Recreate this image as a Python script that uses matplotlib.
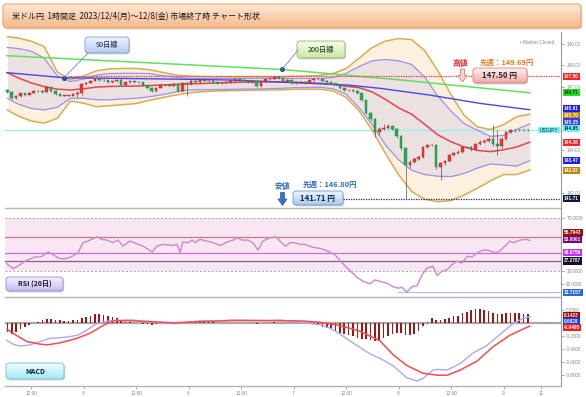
import numpy as np
import matplotlib
matplotlib.use("Agg")
import matplotlib.pyplot as plt
import matplotlib.transforms as mtransforms
from matplotlib.patches import FancyBboxPatch, Polygon, Rectangle, ConnectionPatch
from matplotlib.colors import LinearSegmentedColormap

plt.rcParams['font.family'] = ['Noto Sans CJK JP', 'DejaVu Sans']

# ---------------- data ----------------
title = "米ドル円  1時間足  2023/12/4(月)～12/8(金) 市場終了時 チャート形状"

candle_start = 6.6  # hour (from Dec 4 00:00) of first candle
opens = [146.85, 146.75, 146.45, 146.55, 146.68, 146.62, 146.72, 146.78, 146.80, 146.75,
         147.00, 146.80, 146.65, 146.57, 146.58, 146.58, 146.65, 146.70, 147.12, 147.18,
         147.28, 147.35, 147.30, 147.30, 147.22, 147.25, 147.32, 147.10, 147.22, 147.25,
         147.20, 147.22, 147.08, 146.95, 146.80, 146.95, 147.08, 147.10, 147.05, 147.12,
         146.80, 147.18, 147.12, 147.27, 147.20, 147.32, 147.28, 147.27, 147.20, 147.15,
         147.18, 147.22, 147.25, 147.35, 147.32, 147.28, 147.22, 147.25, 147.02, 147.25,
         147.37, 147.38, 147.45, 147.40, 147.25, 147.33, 147.17, 147.22, 147.22, 147.17,
         147.30, 147.38, 147.35, 147.28, 147.22, 147.15, 147.10, 146.92, 146.83, 146.85,
         146.80, 146.68, 146.35, 145.75, 145.45, 144.88, 145.00, 145.05, 145.12, 145.00,
         144.65, 144.10, 143.30, 143.45, 143.60, 143.67, 144.15, 144.25, 144.25, 143.22,
         143.38, 143.48, 143.78, 143.85, 143.92, 144.15, 144.15, 144.05, 144.30, 144.40,
         144.45, 144.55, 144.28, 144.20, 144.55, 144.87, 144.95, 144.93, 144.97, 144.95]
closes = [146.75, 146.45, 146.55, 146.68, 146.62, 146.72, 146.78, 146.80, 146.75, 147.00,
          146.80, 146.65, 146.57, 146.58, 146.58, 146.65, 146.70, 147.12, 147.18, 147.28,
          147.35, 147.30, 147.30, 147.22, 147.25, 147.32, 147.10, 147.22, 147.25, 147.20,
          147.22, 147.08, 146.95, 146.80, 146.95, 147.08, 147.10, 147.05, 147.12, 146.80,
          147.18, 147.12, 147.27, 147.20, 147.32, 147.28, 147.27, 147.20, 147.15, 147.18,
          147.22, 147.25, 147.35, 147.32, 147.28, 147.22, 147.25, 147.02, 147.25, 147.37,
          147.38, 147.45, 147.40, 147.25, 147.33, 147.17, 147.22, 147.22, 147.17, 147.30,
          147.38, 147.35, 147.28, 147.22, 147.15, 147.10, 146.92, 146.83, 146.85, 146.80,
          146.68, 146.35, 145.75, 145.45, 144.88, 145.00, 145.05, 145.12, 145.00, 144.65,
          144.10, 143.30, 143.45, 143.60, 143.67, 144.15, 144.25, 144.25, 143.22, 143.38,
          143.48, 143.78, 143.85, 143.92, 144.15, 144.15, 144.05, 144.30, 144.40, 144.45,
          144.55, 144.28, 144.20, 144.55, 144.87, 144.95, 144.93, 144.97, 144.95, 144.95]
highs = [146.88, 146.78, 146.60, 146.72, 146.72, 146.76, 146.82, 146.84, 146.83, 147.05,
         147.03, 146.83, 146.68, 146.62, 146.62, 146.68, 146.80, 147.15, 147.22, 147.32,
         147.40, 147.38, 147.34, 147.32, 147.28, 147.36, 147.35, 147.26, 147.29, 147.28,
         147.26, 147.24, 147.10, 146.98, 146.98, 147.12, 147.14, 147.14, 147.16, 147.15,
         147.22, 147.24, 147.31, 147.30, 147.36, 147.35, 147.31, 147.30, 147.23, 147.22,
         147.26, 147.29, 147.39, 147.38, 147.35, 147.31, 147.28, 147.28, 147.28, 147.41,
         147.42, 147.50, 147.48, 147.43, 147.37, 147.36, 147.26, 147.26, 147.25, 147.34,
         147.42, 147.41, 147.38, 147.31, 147.25, 147.18, 147.13, 146.95, 146.89, 146.88,
         146.83, 146.71, 146.38, 145.80, 145.50, 145.08, 145.25, 145.25, 145.18, 145.05,
         144.70, 144.15, 143.52, 143.66, 143.75, 144.20, 144.30, 144.30, 144.28, 143.45,
         143.55, 143.83, 143.92, 144.00, 144.20, 144.22, 144.20, 144.36, 144.47, 144.55,
         144.62, 145.19, 144.95, 144.62, 144.92, 145.00, 145.00, 145.02, 145.01, 145.00]
lows = [146.70, 146.40, 146.40, 146.52, 146.58, 146.60, 146.70, 146.74, 146.72, 146.73,
        146.76, 146.62, 146.54, 146.54, 146.55, 146.55, 146.50, 146.62, 147.08, 147.15,
        147.25, 147.27, 147.26, 147.18, 147.19, 147.22, 147.06, 147.08, 147.19, 147.16,
        147.17, 147.05, 146.92, 146.76, 146.77, 146.93, 147.04, 147.02, 147.02, 146.76,
        146.76, 146.57, 147.10, 147.17, 147.18, 147.25, 147.24, 147.17, 147.12, 147.12,
        147.15, 147.19, 147.22, 147.29, 147.25, 147.19, 147.19, 146.98, 146.98, 147.22,
        147.33, 147.35, 147.36, 147.22, 147.22, 147.14, 147.14, 147.18, 147.14, 147.15,
        147.27, 147.32, 147.25, 147.19, 147.12, 147.06, 146.88, 146.80, 146.80, 146.76,
        146.64, 146.30, 145.70, 145.40, 144.64, 144.70, 144.95, 145.00, 144.95, 144.58,
        144.02, 141.71, 143.15, 143.40, 143.55, 143.62, 144.10, 144.18, 143.10, 142.60,
        143.30, 143.42, 143.72, 143.80, 143.88, 144.08, 143.98, 144.00, 144.25, 144.35,
        144.40, 144.20, 143.77, 144.10, 144.50, 144.82, 144.88, 144.90, 144.90, 144.91]

# Bollinger bands (sampled every 3 hours)
band_t = [6.6, 9, 12, 15, 18, 21, 24, 27, 30, 33, 36, 39, 42, 45, 48, 51, 54, 57, 60, 63,
          66, 69, 72, 75, 78, 81, 84, 87, 90, 93, 96, 99, 102, 105, 108, 111, 114, 117, 120, 123, 126]
bb_up2 = [149.36, 149.30, 149.15, 148.90, 147.70, 147.32, 147.50, 147.75, 147.84, 147.86,
          147.86, 147.80, 147.68, 147.55, 147.50, 147.48, 147.47, 147.47, 147.47, 147.47,
          147.47, 147.47, 147.49, 147.50, 147.53, 147.62, 147.85, 148.35, 148.85, 149.15,
          149.27, 149.22, 148.70, 147.75, 146.62, 145.65, 145.10, 144.98, 145.20, 145.58, 145.70]
bb_up1 = [148.85, 148.80, 148.68, 148.35, 147.52, 147.24, 147.36, 147.55, 147.62, 147.63,
          147.63, 147.62, 147.52, 147.45, 147.40, 147.39, 147.39, 147.39, 147.39, 147.39,
          147.40, 147.39, 147.39, 147.39, 147.39, 147.42, 147.63, 147.95, 148.22, 148.28,
          148.22, 148.05, 147.45, 146.55, 145.85, 145.25, 144.95, 144.65, 144.70, 144.98, 145.24]
bb_mid = [147.66, 147.42, 147.18, 147.00, 146.88, 146.84, 146.90, 146.98, 147.01, 147.02,
          147.03, 147.05, 147.08, 147.10, 147.13, 147.15, 147.17, 147.19, 147.21, 147.22,
          147.23, 147.23, 147.21, 147.19, 147.16, 147.10, 147.02, 146.95, 146.75, 146.40,
          146.00, 145.70, 145.22, 144.72, 144.40, 144.15, 143.99, 143.93, 144.02, 144.15, 144.38]
bb_lo1 = [146.45, 146.18, 145.97, 145.90, 146.02, 146.45, 146.45, 146.38, 146.38, 146.42,
          146.45, 146.52, 146.62, 146.75, 146.84, 146.85, 146.86, 146.87, 146.88, 146.89,
          146.90, 146.92, 146.95, 146.96, 146.97, 146.90, 146.65, 146.00, 145.20, 144.25,
          143.55, 143.05, 142.85, 142.77, 142.75, 142.90, 143.15, 143.35, 143.30, 143.25, 143.50]
bb_lo2 = [145.90, 145.62, 145.38, 145.28, 145.50, 146.32, 146.22, 146.05, 146.10, 146.15,
          146.20, 146.35, 146.48, 146.60, 146.70, 146.76, 146.79, 146.81, 146.82, 146.83,
          146.84, 146.85, 146.87, 146.88, 146.88, 146.80, 146.50, 145.85, 144.95, 143.85,
          142.85, 142.05, 141.68, 141.57, 141.62, 141.88, 142.20, 142.55, 142.85, 142.85, 143.07]

ma90_t = [6.5, 19.5, 27.8, 43.1, 58.2, 69.4, 84.2, 91.8, 103.2, 114.6, 126.0]
ma90_v = [147.66, 147.42, 147.40, 147.36, 147.31, 147.21, 147.08, 146.92, 146.60, 146.21, 145.91]
ma200_t = [6.5, 69.4, 96.3, 126.0]
ma200_v = [148.46, 147.81, 147.32, 146.71]

last_price = 144.95
week_high = 147.50
week_low = 141.71

rsi_t = [6.5, 7.9, 9.5, 10.6, 11.8, 12.9, 14.1, 14.7, 15.9, 17.0, 18.2, 19.3, 20.5, 21.6, 22.7,
         23.9, 25.0, 27.1, 28.2, 29.4, 30.7, 31.9, 33.0, 34.6, 36.2, 37.6, 39.7, 40.8, 42.2, 44.2,
         45.4, 46.1, 46.7, 47.9, 48.8, 49.5, 50.6, 52.2, 53.6, 55.2, 56.8, 58.2, 59.1, 60.2, 61.6,
         62.7, 63.9, 65.0, 66.6, 68.0, 68.9, 70.1, 71.2, 72.3, 73.5, 74.6, 76.2, 78.0, 79.9, 81.5,
         83.1, 84.9, 86.5, 87.9, 89.5, 90.6, 91.8, 93.4, 94.7, 95.9, 96.8, 97.9, 99.1, 100.2, 101.4,
         102.5, 103.9, 104.8, 105.9, 107.1, 108.2, 109.4, 110.5, 111.7, 112.8, 114.2, 115.3, 116.4,
         118.1, 119.2, 120.3, 121.5, 122.2, 123.8, 125.4, 126.0]
rsi_v = [35.4, 31.5, 34.6, 37.2, 39.0, 40.5, 40.5, 41.3, 44.3, 42.3, 39.7, 39.0, 39.7, 41.3, 43.6,
         51.3, 52.6, 55.8, 53.8, 53.3, 51.3, 53.3, 48.7, 52.6, 50.5, 48.7, 44.3, 48.7, 50.0, 49.2,
         50.0, 44.1, 51.8, 51.3, 53.3, 51.3, 53.8, 52.6, 51.3, 49.2, 51.8, 53.3, 55.1, 53.3, 53.3,
         51.3, 45.6, 52.6, 55.1, 55.7, 52.6, 48.7, 51.3, 51.3, 50.0, 50.0, 48.0, 47.0, 45.0, 42.0,
         36.0, 30.0, 25.0, 22.0, 20.0, 23.0, 21.8, 20.5, 17.9, 16.7, 17.4, 13.72, 17.9, 18.5, 26.9,
         32.0, 33.3, 26.4, 29.5, 30.8, 34.6, 37.2, 35.9, 41.0, 40.5, 44.1, 45.6, 45.6,
         43.6, 44.9, 48.7, 52.6, 51.3, 53.3, 53.8, 53.0]
rsi_levels = [55.7943, 43.6756, 37.2787]
rsi_min = 13.7157
rsi_min_start = 95.9

macd_t = [6.5, 7.9, 9.5, 11.8, 14.1, 16.3, 20.2, 22.7, 24.8, 27.1, 29.4, 31.7, 35.3, 39.2, 43.1,
          46.1, 47.7, 50.6, 54.5, 58.2, 62.1, 65.9, 68.9, 73.5, 75.8, 78.0, 80.3, 82.6, 84.9, 87.2,
          89.5, 91.8, 94.7, 97.9, 100.2, 101.6, 103.9, 105.0, 107.1, 110.1, 113.0, 116.2, 119.9,
          122.2, 124.5, 126.0]
macd_v = [-0.27, -0.33, -0.36, -0.34, -0.29, -0.24, -0.22, -0.19, -0.11, -0.01, 0.026, 0.04, 0.045,
          0.01, -0.01, -0.01, 0.01, 0.03, 0.03, 0.045, 0.04, 0.035, 0.045, 0.01, -0.01, -0.03, -0.08,
          -0.17, -0.28, -0.38, -0.48, -0.55, -0.66, -0.85, -0.90, -0.86, -0.73, -0.72, -0.73, -0.63,
          -0.47, -0.35, -0.14, -0.01, 0.07, 0.0928]
signal_t = [6.5, 8.8, 11.1, 14.1, 15.7, 18.6, 22.5, 25.5, 28.5, 30.7, 33.9, 39.2, 44.5, 50.6, 58.2,
            65.9, 73.5, 78.0, 82.6, 87.2, 91.8, 94.7, 97.9, 101.6, 104.8, 107.1, 110.1, 114.0,
            117.6, 121.5, 126.0]
signal_v = [-0.10, -0.20, -0.29, -0.33, -0.34, -0.31, -0.24, -0.16, -0.04, 0.03, 0.035, 0.02, 0.0,
            0.02, 0.035, 0.035, 0.03, 0.01, -0.04, -0.13, -0.28, -0.49, -0.66, -0.78, -0.81, -0.81,
            -0.73, -0.59, -0.37, -0.19, -0.0495]
hist_v = [-0.14, -0.17, -0.14, -0.10, -0.07, -0.04, -0.01, 0.01, 0.04, 0.06,
          0.055, 0.045, 0.04, 0.035, 0.035, 0.04, 0.05, 0.07, 0.09, 0.11,
          0.13, 0.13, 0.125, 0.11, 0.095, 0.07, 0.04, 0.02, 0.01, 0.005,
          0.0, -0.02, -0.025, -0.03, -0.025, -0.02, -0.02, -0.015, -0.01, -0.01,
          0.005, 0.01, 0.015, 0.02, 0.02, 0.02, 0.015, 0.01, 0.005, 0.005,
          0.005, 0.0, 0.005, 0.005, 0.005, 0.0, 0.0, -0.015, -0.01, 0.0,
          0.005, 0.01, 0.005, -0.005, -0.005, -0.01, -0.005, -0.01, -0.01, -0.015,
          -0.025, -0.04, -0.06, -0.08, -0.10, -0.12, -0.15, -0.17, -0.19, -0.21,
          -0.23, -0.245, -0.255, -0.265, -0.275, -0.27, -0.24, -0.20, -0.17, -0.16,
          -0.16, -0.19, -0.19, -0.17, -0.13, -0.05, 0.01, 0.08, 0.05, 0.05,
          0.06, 0.08, 0.10, 0.11, 0.15, 0.17, 0.20, 0.21, 0.21, 0.20,
          0.19, 0.16, 0.14, 0.14, 0.15, 0.15, 0.15, 0.145, 0.14, 0.1423]

xtick_hours = [12, 24, 36, 48, 60, 72, 84, 96, 108, 120, 128.6]
xtick_labels = ["12:00", "5", "12:00", "6", "12:00", "7", "12:00", "8", "12:00", "9", "11"]

# ---------------- layout ----------------
W, H = 586, 397
fig = plt.figure(figsize=(W / 100, H / 100), dpi=100)
fig.patch.set_facecolor('white')

def axrect(x0, y0, x1, y1):
    return [x0 / W, 1 - y1 / H, (x1 - x0) / W, (y1 - y0) / H]

PXH = 4.375          # pixels per hour
X0H = -21.5          # pixel of hour 0
XL = ((5 - X0H) / PXH, (561 - X0H) / PXH)

def px2h(px):
    return (px - X0H) / PXH

ax = fig.add_axes(axrect(5, 32, 561, 208))
ax_rsi = fig.add_axes(axrect(5, 208, 561, 297))
ax_macd = fig.add_axes(axrect(5, 297, 561, 386))

NUMFONT = 'Liberation Sans'

def style(a, ticks, fmt):
    a.set_xlim(*XL)
    a.set_facecolor('none')
    a.yaxis.tick_right()
    a.set_yticks(ticks)
    a.set_yticklabels([fmt % v for v in ticks], family=NUMFONT)
    a.tick_params(axis='y', direction='out', length=2, width=0.5, colors='#888888',
                  labelsize=3.3, pad=1.8)
    for s in ['top', 'left']:
        a.spines[s].set_visible(False)
    a.spines['right'].set_color('#9a9a9a')
    a.spines['right'].set_linewidth(0.8)
    a.spines['bottom'].set_color('#b4b4b4')
    a.spines['bottom'].set_linewidth(1.0)
    a.set_xticks([])

style(ax, [142, 144, 147, 148, 149], '%.2f')
style(ax_rsi, [20, 30, 70], '%.4f')
style(ax_macd, [-0.8, -0.6, -0.4, -0.2, 0.2], '%.4f')
ax.set_ylim(141.27, 149.58)
ax_rsi.set_ylim(10, 77.7)
ax_macd.set_ylim(-0.977, 0.40)

# ---------------- main panel ----------------
ax.fill_between(band_t, bb_lo2, bb_up2, color='#fdf0de', lw=0, zorder=1)
ax.fill_between(band_t, bb_lo1, bb_up1, color='#ebe1e1', lw=0, zorder=1.2)
ax.plot(band_t, bb_up2, color='#d8ac55', lw=1.1, zorder=2)
ax.plot(band_t, bb_lo2, color='#d8ac55', lw=1.1, zorder=2)
ax.plot(band_t, bb_up1, color='#9d92e8', lw=0.9, zorder=2)
ax.plot(band_t, bb_lo1, color='#9d92e8', lw=0.9, zorder=2)
ax.plot(band_t, bb_mid, color='#e0474f', lw=1.1, zorder=2.2)
ax.plot(ma200_t, ma200_v, color='#5fe05f', lw=1.1, zorder=2.3)
ax.plot(ma90_t, ma90_v, color='#4848e6', lw=1.0, zorder=2.3)

ax.axhline(last_price, color='#8ff0f0', lw=0.9, zorder=1.8)
ax.plot([px2h(68), XL[1]], [week_high, week_high], color='#ff3030', lw=0.9,
        ls=(0, (1, 1)), zorder=2.5)
ax.plot([px2h(343), XL[1]], [week_low, week_low], color='#1a2a5a', lw=0.9,
        ls=(0, (1, 1)), zorder=2.5)

hours = candle_start + np.arange(len(closes))
o = np.array(opens); c = np.array(closes)
up = c >= o
body_lo = np.minimum(o, c)
body_h = np.maximum(np.abs(c - o), 0.015)
ax.vlines(hours, lows, highs, color='#555555', lw=0.5, zorder=3)
ax.bar(hours[up], body_h[up], bottom=body_lo[up], width=0.62, color='#ec3a35',
       edgecolor='#b82020', lw=0.3, zorder=4)
ax.bar(hours[~up], body_h[~up], bottom=body_lo[~up], width=0.62, color='#22b055',
       edgecolor='#17803c', lw=0.3, zorder=4)

# dots on moving averages
h90 = px2h(64)
v90 = np.interp(h90, ma90_t, ma90_v)
h200 = px2h(282)
v200 = np.interp(h200, ma200_t, ma200_v)
ax.plot([h90], [v90], 'o', ms=2.6, color='#2c4c9c', zorder=8)
ax.plot([h200], [v200], 'o', ms=2.6, color='#2c4c9c', zorder=8)

blend_main = mtransforms.blended_transform_factory(ax.transAxes, ax.transData)
blend_rsi = mtransforms.blended_transform_factory(ax_rsi.transAxes, ax_rsi.transData)
blend_macd = mtransforms.blended_transform_factory(ax_macd.transAxes, ax_macd.transData)

def tag(a, tr, y, text, fc, tc='white'):
    a.text(1.0055, y, text, transform=tr, fontsize=3.4, color=tc, fontweight='bold',
           family=NUMFONT, va='center', ha='left', clip_on=False, zorder=20,
           bbox=dict(boxstyle='square,pad=0.22', fc=fc, ec='none'))

main_tags = [("147.50", 147.50, '#ff2222', 'white'),
             ("146.71", 146.71, '#22e022', '#0a300a'),
             ("145.91", 145.95, '#1e1ef0', 'white'),
             ("145.70", 145.64, '#b8860b', 'white'),
             ("145.25", 145.33, '#3a3af0', 'white'),
             ("144.95", 145.02, '#6ff5f5', '#003040'),
             ("144.36", 144.35, '#ff2222', 'white'),
             ("143.47", 143.52, '#1e1ef0', 'white'),
             ("143.03", 143.05, '#b8860b', 'white'),
             ("141.71", 141.70, '#0d1a3a', 'white')]
for txt, y, fc, tc in main_tags:
    tag(ax, blend_main, y, txt, fc, tc)

# ---------------- RSI panel ----------------
ax_rsi.axhspan(30, 70, color='#f6e7f3', lw=0, zorder=0.5)
ax_rsi.axhline(70, color='#aaaaaa', lw=0.7, ls=(0, (2, 2)), zorder=1)
ax_rsi.axhline(30, color='#aaaaaa', lw=0.7, ls=(0, (2, 2)), zorder=1)
lvl_cols = ['#cf7585', '#d068e0', '#8a5a8a']
for lv, col in zip(rsi_levels, lvl_cols):
    ax_rsi.axhline(lv, color=col, lw=0.9, zorder=1.5)
ax_rsi.plot([rsi_min_start, XL[1]], [rsi_min, rsi_min], color='#a9c6f2', lw=0.9, zorder=1.5)
ax_rsi.plot(rsi_t, rsi_v, color='#cc88cc', lw=1.0, zorder=3)

rsi_tags = [("55.7943", 59.2, '#a00808'), ("53.0001", 54.0, '#7a007a'),
            ("43.6756", 44.1, '#c030ff'), ("37.2787", 37.4, '#14102c'),
            ("13.7157", 13.5, '#2a6ad8')]
for txt, y, fc in rsi_tags:
    tag(ax_rsi, blend_rsi, y, txt, fc)

# ---------------- MACD panel ----------------
ax_macd.axhline(0, color='#a8a8a8', lw=1.6, zorder=1)
ax_macd.bar(hours, hist_v, width=0.38, color='#a51414', zorder=2)
ax_macd.plot(macd_t, macd_v, color='#a8a8f4', lw=1.0, zorder=3)
ax_macd.plot(signal_t, signal_v, color='#ff4a4a', lw=1.1, zorder=3)
ax_macd.set_xticks(xtick_hours)
ax_macd.set_xticklabels(xtick_labels, family=NUMFONT)
ax_macd.tick_params(axis='x', direction='out', length=2, width=0.5, colors='#888888',
                    labelsize=3.4, pad=1.8)
macd_tags = [("0.1423", 0.12, '#8e0c0c'), ("0.0928", 0.025, '#1a3cff'),
             ("-0.0495", -0.075, '#ff1a1a')]
for txt, y, fc in macd_tags:
    tag(ax_macd, blend_macd, y, txt, fc)

# ---------------- overlay (annotations, pixel coords) ----------------
ov = fig.add_axes([0, 0, 1, 1])
ov.set_facecolor('none')
ov.axis('off')

def gbox(x0, y0, x1, y1, c_top, c_bot, ec, r=3, shadow=True, lw=0.6):
    bs = 'round,pad=0,rounding_size=%g' % r
    if shadow:
        ov.add_patch(FancyBboxPatch((x0 + 1.2, y0 + 1.5), x1 - x0, y1 - y0, boxstyle=bs,
                                    fc='black', ec='none', alpha=0.16, zorder=5))
    p = FancyBboxPatch((x0, y0), x1 - x0, y1 - y0, boxstyle=bs, fc='none', ec=ec,
                       lw=lw, zorder=7)
    ov.add_patch(p)
    cmap = LinearSegmentedColormap.from_list('g', [c_top, c_bot])
    grad = np.linspace(0, 1, 64).reshape(-1, 1)
    im = ov.imshow(grad, cmap=cmap, extent=(x0, x1, y1, y0), aspect='auto',
                   zorder=6, interpolation='bilinear')
    im.set_clip_path(p)

# title bar
gbox(3, 4, 581, 28, '#fde9d6', '#f7b888', '#f0a466', r=4, shadow=True, lw=0.8)
ov.text(12, 16.5, title, fontsize=5.8, ha='left', va='center', color='#1a1a1a', zorder=9)

# 90 / 200 day labels
gbox(85, 37, 129, 53, '#f0f5ff', '#b6cbf1', '#7e9bcb')
ov.text(107, 45.3, '90日線', fontsize=5.2, ha='center', va='center', color='#1a2040', zorder=9)
gbox(297, 41, 345, 58, '#f6ffea', '#cbe6a4', '#94b662')
ov.text(321, 49.8, '200日線', fontsize=5.2, ha='center', va='center', color='#1a2a10', zorder=9)
fig.add_artist(ConnectionPatch(xyA=(88, 53), coordsA=ov.transData, xyB=(h90, v90),
                               coordsB=ax.transData, color='#6a88bf', lw=0.6, zorder=9))
fig.add_artist(ConnectionPatch(xyA=(298, 50), coordsA=ov.transData, xyB=(h200, v200),
                               coordsB=ax.transData, color='#6a88bf', lw=0.6, zorder=9))

# high annotation
ov.text(460, 63.5, '高値', fontsize=5.6, fontweight='bold', ha='center', va='center',
        color='#e82a2a', zorder=9)
ov.add_patch(Polygon([(460.5, 69), (464.5, 69), (464.5, 75.5), (467, 75.5), (462.5, 82),
                      (458, 75.5), (460.5, 75.5)], closed=True, fc='#fcd6d6', ec='#e07a7a',
                     lw=0.6, zorder=9))
ov.text(507, 62, '先週：149.69円', fontsize=5.4, fontweight='bold', ha='center', va='center',
        color='#f07a22', zorder=9)
gbox(473, 68, 527, 83, '#fff2f2', '#f2a6a6', '#d98080')
ov.text(500, 75.8, '147.50 円', fontsize=5.6, fontweight='bold', ha='center', va='center',
        color='#2a2a2a', zorder=9)

# low annotation
ov.text(282, 186, '安値', fontsize=5.6, fontweight='bold', ha='center', va='center',
        color='#2a6ac4', zorder=9)
ov.add_patch(Polygon([(280.5, 192.5), (284.5, 192.5), (284.5, 199), (287, 199), (282.5, 205.5),
                      (278, 199), (280.5, 199)], closed=True, fc='#3a70c6', ec='#2a5aa8',
                     lw=0.5, zorder=9))
ov.text(330, 184.5, '先週：146.80円', fontsize=5.4, fontweight='bold', ha='center',
        va='center', color='#2a6ac4', zorder=9)
gbox(293, 191, 343, 205, '#eef6ff', '#a8caee', '#6f96c8')
ov.text(318, 198.3, '141.71 円', fontsize=5.6, fontweight='bold', ha='center', va='center',
        color='#1a2a40', zorder=9)

# panel labels
gbox(6, 277, 63, 291, '#f7f1ff', '#c9baef', '#9987cb')
ov.text(34.5, 284.3, 'RSI (20日)', fontsize=5.0, fontweight='bold', ha='center', va='center',
        color='#1a1a2a', zorder=9)
gbox(6, 363, 64, 379, '#f0feff', '#a4e8f2', '#6cc2d2')
ov.text(35, 371.3, 'MACD', fontsize=5.0, fontweight='bold', ha='center', va='center',
        color='#10202a', zorder=9)

# misc
ov.text(520, 42, '• Market Closed', fontsize=3.4, ha='left', va='center', color='#8a8a8a',
        family=NUMFONT, zorder=9)
ov.add_patch(Rectangle((538, 127.3), 22, 5.6, fc='#72f4f4', ec='none', zorder=9))
ov.text(549, 130.1, 'USDJPY', fontsize=3.4, ha='center', va='center', color='#0a3040',
        family=NUMFONT, zorder=10)

ov.set_xlim(0, W)
ov.set_ylim(H, 0)

fig.savefig('out.png', dpi=100, facecolor='white')
